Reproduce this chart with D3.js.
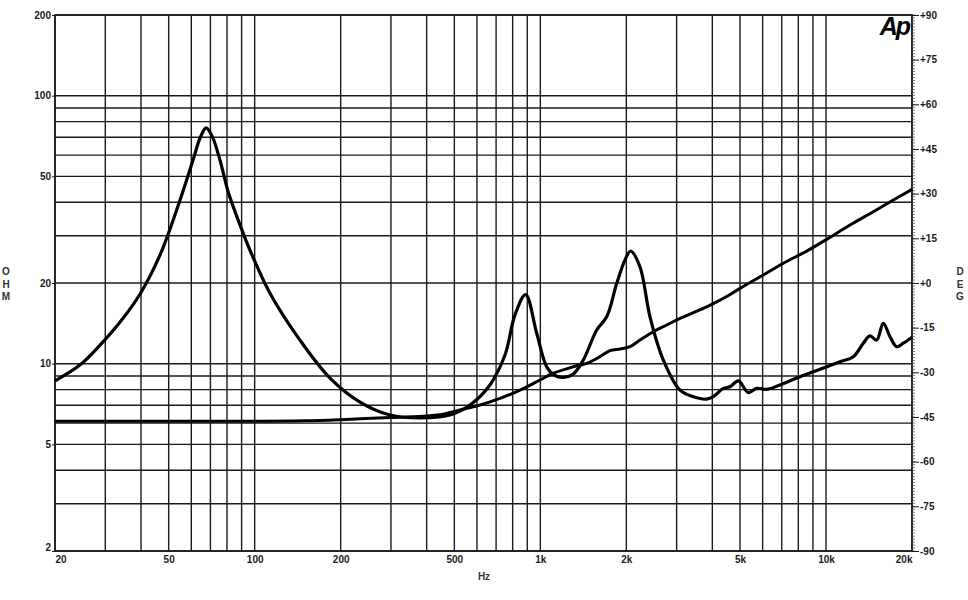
<!DOCTYPE html>
<html>
<head>
<meta charset="utf-8">
<script src="https://cdn.jsdelivr.net/npm/d3@7"></script>
<style>
  html, body { margin: 0; padding: 0; background: #fff; }
  svg text { font-family: "Liberation Sans", Arial, sans-serif; }
</style>
</head>
<body>
<svg id="chart" width="968" height="600"></svg>
<script>
// ---- data ----
const xTickValues = [20, 50, 100, 200, 500, 1000, 2000, 5000, 10000, 20000];
const xTickLabels = ["20", "50", "100", "200", "500", "1k", "2k", "5k", "10k", "20k"];
const xGridValues = [20,30,40,50,60,70,80,90,100,200,300,400,500,600,700,800,900,1000,2000,3000,4000,5000,6000,7000,8000,9000,10000,20000];
const yTickValues = [2, 5, 10, 20, 50, 100, 200];
const yGridValues = [2,3,4,5,6,7,8,9,10,20,30,40,50,60,70,80,90,100,200];
const degTickValues = [90, 75, 60, 45, 30, 15, 0, -15, -30, -45, -60, -75, -90];
const degTickLabels = ["+90","+75","+60","+45","+30","+15","+0","-15","-30","-45","-60","-75","-90"];

const curveAFreq = [20, 24.5, 28.7, 33.8, 39.7, 46.6, 54.8, 61, 64.4, 67.6, 71.0, 75.6, 80.9, 88.8, 96.3, 113, 144, 183.5, 233.8, 297.7, 379, 482.7, 567, 666, 752, 815, 888, 971, 1052, 1118, 1203, 1304, 1414, 1575, 1707, 1850, 1979, 2071, 2232, 2420, 2695, 3083, 3432, 3822, 4032, 4370, 4612, 4932, 5346, 5719, 6198, 6902, 8110, 9528, 11194, 12462, 13504, 14256, 15044, 15866, 16750, 17680, 18644, 20000];
const curveAOhm  = [8.62, 9.9, 11.7, 14.3, 18.2, 25.4, 40.8, 58.0, 69.5, 75.8, 70.5, 57.5, 43.5, 33.0, 26.5, 18.36, 12.25, 8.84, 7.19, 6.43, 6.27, 6.43, 7.01, 8.33, 10.77, 15.2, 18.1, 12.99, 9.74, 9.07, 8.89, 9.15, 10.32, 13.36, 14.96, 19.9, 24.4, 26.3, 23.0, 14.96, 10.32, 7.97, 7.53, 7.38, 7.53, 8.09, 8.20, 8.62, 7.80, 8.09, 8.02, 8.33, 8.94, 9.53, 10.17, 10.62, 11.92, 12.69, 12.25, 14.15, 12.61, 11.57, 11.92, 12.55];

const curveBFreq = [20, 50, 100, 150, 200, 300, 400, 445, 523, 615, 722, 849, 997, 1110, 1304, 1453, 1617, 1753, 1900, 2060, 2232, 2486, 2770, 3083, 3432, 3822, 4144, 4490, 5000, 6032, 7088, 8558, 10054, 12132, 14638, 17208, 20000];
const curveBOhm  = [6.1, 6.1, 6.1, 6.12, 6.18, 6.3, 6.38, 6.45, 6.72, 7.01, 7.42, 7.97, 8.69, 9.21, 9.74, 10.03, 10.62, 11.18, 11.35, 11.57, 12.25, 13.16, 13.94, 14.76, 15.5, 16.3, 17.0, 17.8, 19.1, 21.43, 23.7, 26.3, 29.1, 32.9, 36.9, 40.8, 44.7];

// ---- layout ----
const svg = d3.select("#chart");
const L = 55, R = 912, T = 15, B = 551;
const x = d3.scaleLog().domain([20, 20000]).range([L, R]);
const y = d3.scaleLog().domain([2, 200]).range([B, T]);
const yd = d3.scaleLinear().domain([-90, 90]).range([B, T]);
const ink = "#1a1a1a";

// grid
const g = svg.append("g");
g.selectAll("line.vg").data(xGridValues).enter().append("line")
  .attr("x1", d => x(d)).attr("x2", d => x(d)).attr("y1", T).attr("y2", B)
  .attr("stroke", ink).attr("stroke-width", 1.4);
g.selectAll("line.hg").data(yGridValues).enter().append("line")
  .attr("y1", d => y(d)).attr("y2", d => y(d)).attr("x1", L).attr("x2", R)
  .attr("stroke", ink).attr("stroke-width", 1.4);
g.append("rect").attr("x", L).attr("y", T).attr("width", R - L).attr("height", B - T)
  .attr("fill", "none").attr("stroke", ink).attr("stroke-width", 1.6);

// left axis
const leftAxis = d3.axisLeft(y).tickValues(yTickValues).tickFormat(d3.format("d")).tickSize(3).tickPadding(1);
const la = svg.append("g").attr("transform", `translate(${L},0)`).call(leftAxis);
la.select(".domain").remove();
la.selectAll("text").attr("font-size", 10).attr("font-weight", "bold").attr("fill", ink);
la.selectAll("line").attr("stroke", ink);
la.selectAll(".tick").filter(d => d === 2).select("text").attr("dy", "-0.1em");

// bottom axis
const bottomAxis = d3.axisBottom(x).tickValues(xTickValues)
  .tickFormat((d, i) => xTickLabels[i]).tickSize(0).tickPadding(5);
const ba = svg.append("g").attr("transform", `translate(0,${B})`).call(bottomAxis);
ba.select(".domain").remove();
ba.selectAll("text").attr("font-size", 10).attr("font-weight", "bold").attr("fill", ink);
ba.selectAll(".tick").filter(d => d === 20).select("text").attr("text-anchor", "start");
ba.selectAll(".tick").filter(d => d === 20000).select("text").attr("text-anchor", "end");

// right axis: minor ticks every degree
const minor = d3.range(-90, 91, 1);
svg.append("g").selectAll("line").data(minor).enter().append("line")
  .attr("x1", R).attr("x2", R + 3).attr("y1", d => yd(d)).attr("y2", d => yd(d))
  .attr("stroke", "#555").attr("stroke-width", 0.8);
const rightAxis = d3.axisRight(yd).tickValues(degTickValues)
  .tickFormat((d, i) => degTickLabels[i]).tickSize(7).tickPadding(1);
const ra = svg.append("g").attr("transform", `translate(${R},0)`).call(rightAxis);
ra.select(".domain").remove();
ra.selectAll("text").attr("font-size", 10).attr("font-weight", "bold").attr("fill", ink);
ra.selectAll("line").attr("stroke", ink);

// axis titles
const ohm = ["O", "H", "M"], deg = ["D", "E", "G"];
svg.append("g").selectAll("text").data(ohm).enter().append("text")
  .attr("x", 6).attr("y", (d, i) => 275 + i * 12.5).attr("text-anchor", "middle")
  .attr("font-size", 10).attr("font-weight", "bold").attr("fill", "#333").text(d => d);
svg.append("g").selectAll("text").data(deg).enter().append("text")
  .attr("x", 960).attr("y", (d, i) => 275 + i * 12.5).attr("text-anchor", "middle")
  .attr("font-size", 10).attr("font-weight", "bold").attr("fill", "#333").text(d => d);
svg.append("text").attr("x", 484).attr("y", 580).attr("text-anchor", "middle")
  .attr("font-size", 10).attr("font-weight", "bold").attr("fill", "#333").text("Hz");

// logo
svg.append("text").attr("x", 909).attr("y", 35).attr("text-anchor", "end")
  .attr("font-size", 25).attr("font-weight", "bold").attr("font-style", "italic")
  .attr("letter-spacing", -2).attr("fill", "#000").text("Ap");

// curves
const line = d3.line().x(d => x(d[0])).y(d => y(d[1])).curve(d3.curveCatmullRom.alpha(0.5));
const dataB = curveBFreq.map((f, i) => [f, curveBOhm[i]]);
const dataA = curveAFreq.map((f, i) => [f, curveAOhm[i]]);
svg.append("path").datum(dataB).attr("d", line).attr("fill", "none")
  .attr("stroke", "#000").attr("stroke-width", 3).attr("stroke-linejoin", "round");
svg.append("path").datum(dataA).attr("d", line).attr("fill", "none")
  .attr("stroke", "#000").attr("stroke-width", 3.2).attr("stroke-linejoin", "round");
</script>
</body>
</html>
